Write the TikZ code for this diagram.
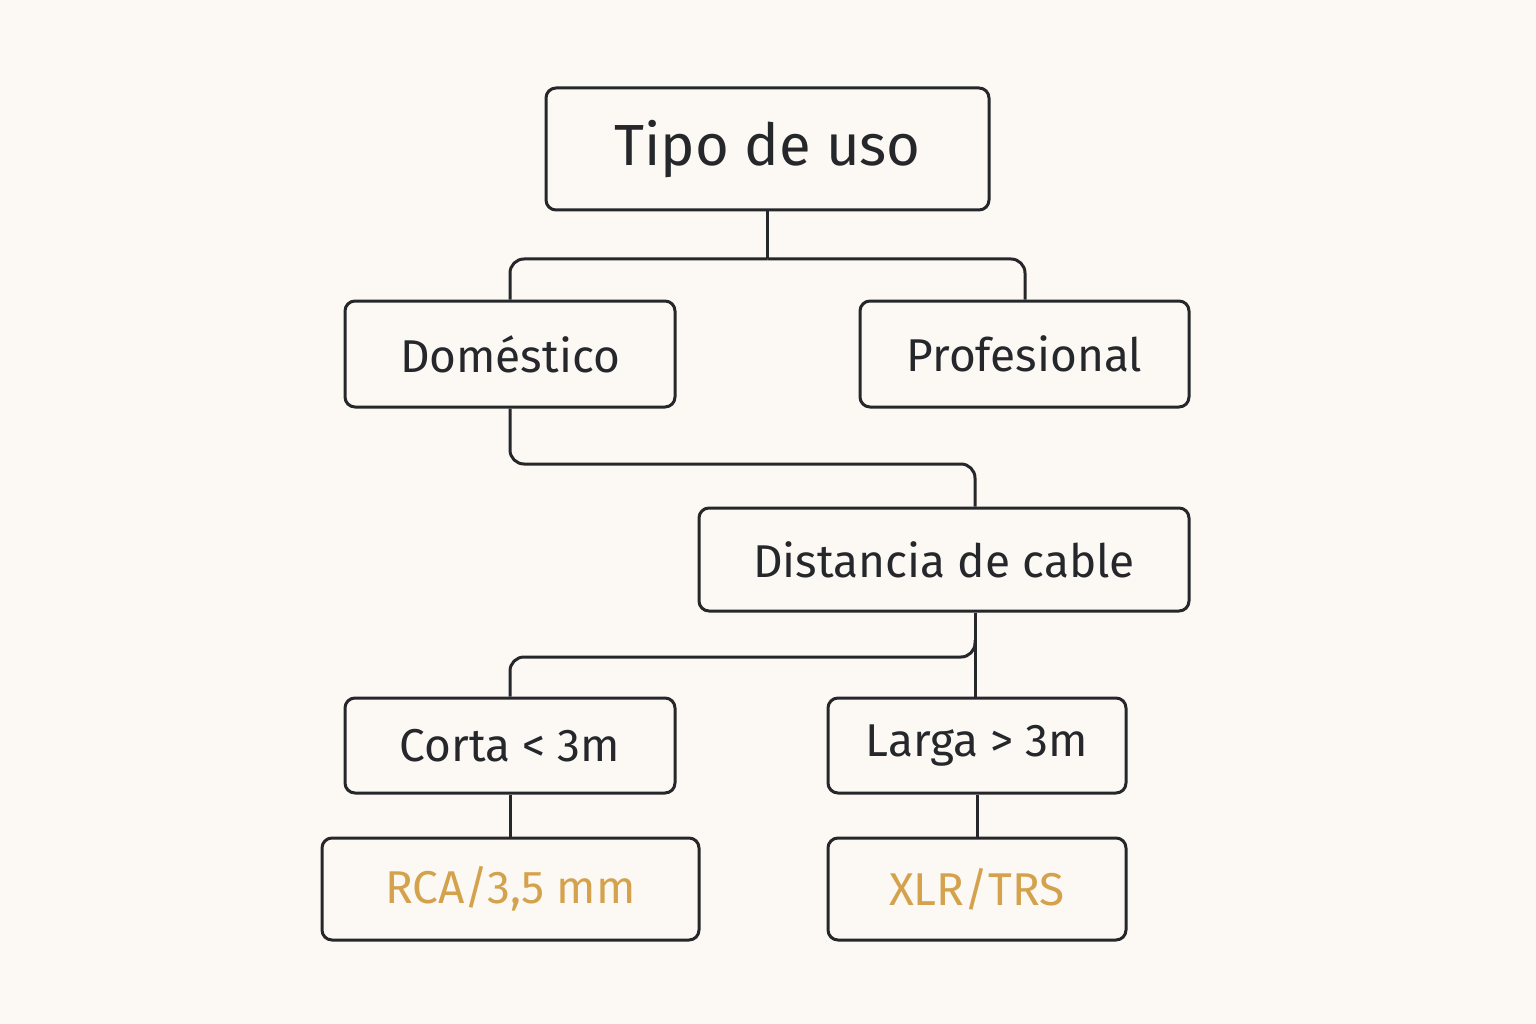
\documentclass[tikz,border=0pt]{standalone}
\usepackage{fontspec}
\setmainfont{Fira Sans}
\definecolor{bg}{HTML}{FCF9F5}
\definecolor{ink}{HTML}{25272B}
\definecolor{gold}{HTML}{D4A24C}
\begin{document}
\begin{tikzpicture}[x=1pt,y=-1pt,
  box/.style={draw=ink,line width=3pt,rounded corners=10pt,fill=bg,text=ink,inner sep=0pt,font=\fontsize{46}{50}\selectfont},
  line/.style={draw=ink,line width=3pt,rounded corners=14pt}]
\fill[bg] (0,0) rectangle (1536,1024);
\useasboundingbox (0,0) rectangle (1536,1024);
\node[box,minimum width=443pt,minimum height=122pt,font=\fontsize{58}{62}\selectfont] (tipo) at (767.5,149) {Tipo de uso};
\node[box,minimum width=330pt,minimum height=106pt] (dom) at (510,354) {Doméstico};
\node[box,minimum width=329pt,minimum height=106pt] (pro) at (1024.5,354) {Profesional};
\node[box,minimum width=490pt,minimum height=103pt] (dist) at (944,559.5) {Distancia de cable};
\node[box,minimum width=330pt,minimum height=95pt] (corta) at (510,745.5) {Corta < 3m};
\node[box,minimum width=298pt,minimum height=95pt] (larga) at (977,745.5) {Larga > 3m};
\node[box,minimum width=377pt,minimum height=102pt,text=gold] (rca) at (510.5,889) {RCA/3,5 mm};
\node[box,minimum width=298pt,minimum height=102pt,text=gold] (xlr) at (977,889) {XLR/TRS};
\coordinate (d1) at (767.5,259);
\draw[line] (tipo.south) -- (d1);
\draw[line] (d1) -- (1025,259) -- (pro.north -| 1025,0);
\draw[line] (d1) -- (510,259) -- (dom.north);
\draw[line] (dom.south) -- (510,464) -- (975,464) -- (dist.north -| 975,0);
\draw[line] (dist.south -| 975,0) -- (larga.north -| 975,0);
\draw[line] (975,640) -- (975,657) -- (510,657) -- (corta.north);
\draw[line] (corta.south) -- (rca.north -| corta.south);
\draw[line] (larga.south) -- (xlr.north);
\end{tikzpicture}
\end{document}
